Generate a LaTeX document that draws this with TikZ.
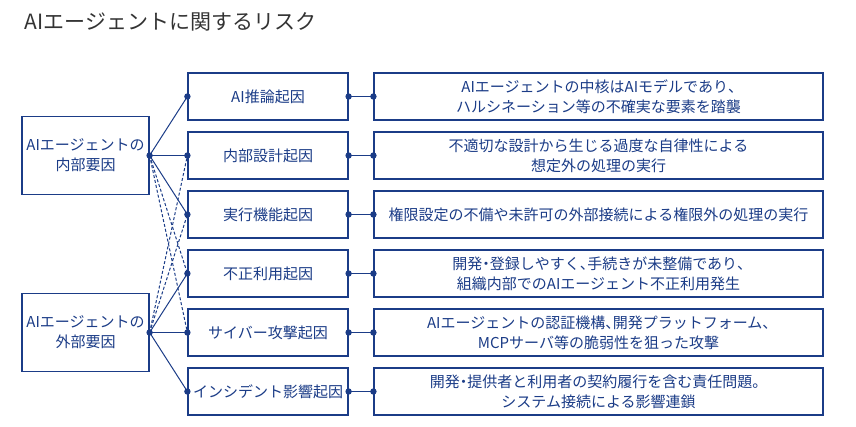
\documentclass[tikz,border=0pt]{standalone}
\usepackage{fontspec}
\setmainfont{Noto Sans CJK JP}
\definecolor{navy}{HTML}{1B3C87}
\definecolor{titlegray}{HTML}{333333}
\newcommand{\dotjp}{\makebox[0.5em]{・}}
\newcommand{\commajp}{\makebox[0.5em][l]{、}}

\begin{document}
\begin{tikzpicture}[x=1pt, y=-1pt,
box/.style={draw=navy, line width=1.2pt, text=navy, fill=white,
    font=\fontsize{15}{20}\selectfont, align=center, inner sep=0pt},
factor/.style={box, minimum width=127pt, minimum height=78pt},
cause/.style={box, minimum width=160pt, minimum height=47pt},
risk/.style={box, minimum width=449pt, minimum height=47pt},
link/.style={navy, line width=1pt},
cross/.style={link, dash pattern=on 3pt off 2pt}]
\useasboundingbox (0,0) rectangle (856,427);
\node[anchor=west, text=titlegray, font=\fontsize{21}{24}\selectfont] (title) at (21,22) {AIエージェントに関するリスク};

% causes and risks, one row each
\foreach \c/\r [count=\i] in {
  {AI推論起因}/{AIエージェントの中核はAIモデルであり\commajp\\ハルシネーション等の不確実な要素を踏襲},
  {内部設計起因}/{不適切な設計から生じる過度な自律性による\\想定外の処理の実行},
  {実行機能起因}/{権限設定の不備や未許可の外部接続による権限外の処理の実行},
  {不正利用起因}/{開発\dotjp 登録しやすく\commajp 手続きが未整備であり\commajp\\組織内部でのAIエージェント不正利用発生},
  {サイバー攻撃起因}/{AIエージェントの認証機構\commajp 開発プラットフォーム\commajp\\MCPサーバ等の脆弱性を狙った攻撃},
  {インシデント影響起因}/{開発\dotjp 提供者と利用者の契約履行を含む責任問題。\\システム接続による影響連鎖}}
{
  \node[cause] (cause\i) at (268, {96.5+59*(\i-1)}) {\c};
  \node[risk] (risk\i) at (598.5, {96.5+59*(\i-1)}) {\r};
  \draw[link] (cause\i.east) -- (risk\i.west);
  \fill[navy] (cause\i.east) circle (3.2pt) (risk\i.west) circle (3.2pt);
}

\node[factor] (inner) at (85.5,155.5) {AIエージェントの\\内部要因};
\node[factor] (outer) at (85.5,332.5) {AIエージェントの\\外部要因};

% links from the two factors
\foreach \i in {4,5} \draw[cross] (inner.east) -- (cause\i.west);
\foreach \i in {2,3} \draw[cross] (outer.east) -- (cause\i.west);
\foreach \i in {1,2,3} \draw[link] (inner.east) -- (cause\i.west);
\foreach \i in {4,5,6} \draw[link] (outer.east) -- (cause\i.west);
\foreach \i in {1,...,6} \fill[navy] (cause\i.west) circle (3.2pt);
\fill[navy] (inner.east) circle (3.2pt) (outer.east) circle (3.2pt);
\end{tikzpicture}
\end{document}
